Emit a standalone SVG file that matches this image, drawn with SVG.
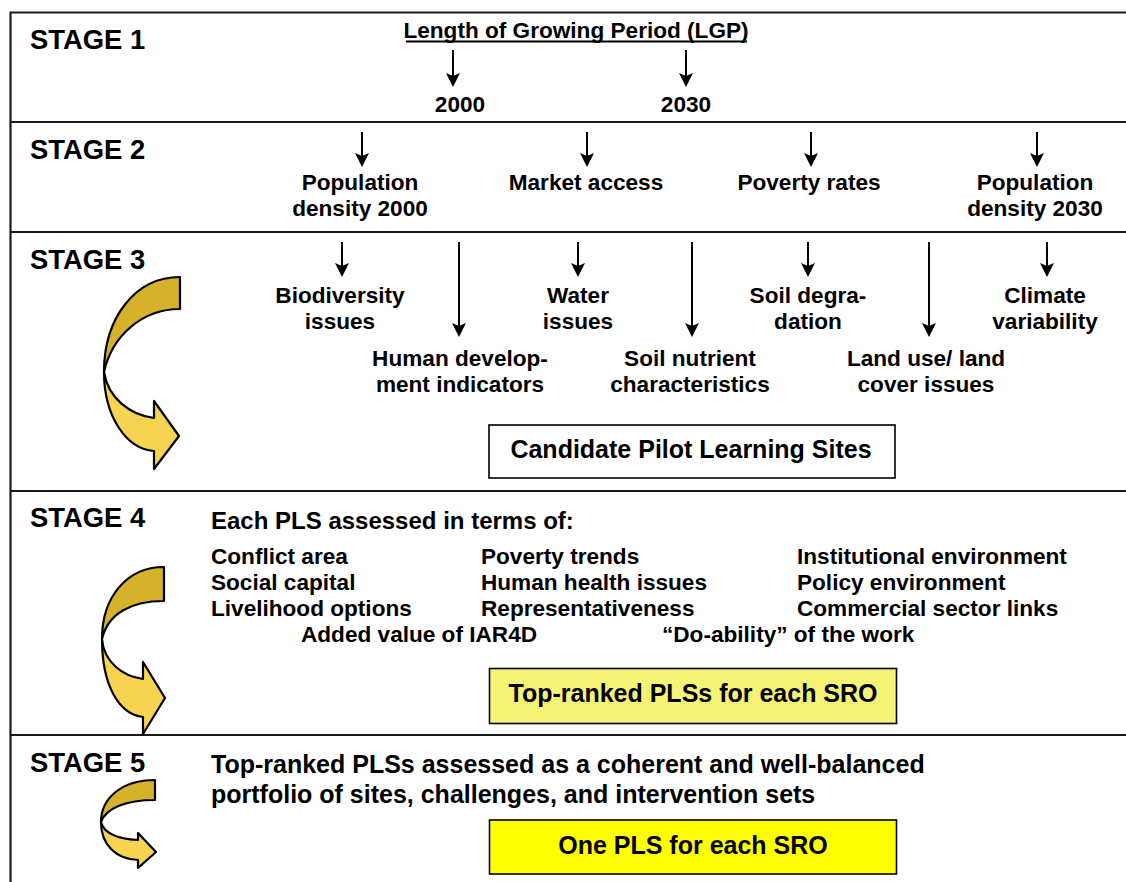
<svg xmlns="http://www.w3.org/2000/svg" width="1126" height="882" viewBox="0 0 1126 882">
  <style>
    .frame { stroke: #1a1a1a; stroke-width: 2.2; fill: none; }
    .stage { font-family: "Liberation Sans", Arial, sans-serif; font-weight: bold; font-size: 27.4px; fill: #000; }
    .t { font-family: "Liberation Sans", Arial, sans-serif; font-weight: bold; font-size: 22.6px; fill: #000; }
    .lead { font-size: 24px; }
    .big { font-size: 25px; }
    .c { text-anchor: middle; }
    .arr { stroke: #000; stroke-width: 2; fill: none; marker-end: url(#head); }
    .box { stroke: #000; stroke-width: 1.6; }
    .back { fill: #d6b22a; stroke: #000; stroke-width: 2.2; stroke-linejoin: round; }
    .front { fill: #f6d452; stroke: #000; stroke-width: 2.2; stroke-linejoin: round; }
  </style>
  <defs>
    <marker id="head" markerUnits="userSpaceOnUse" viewBox="0 -7 14 14" markerWidth="14" markerHeight="14" refX="10" refY="0" orient="auto">
      <path d="M0,-7 L14,0 L0,7 L3,0 Z" fill="#000"/>
    </marker>
    <pattern id="grain" width="4" height="4" patternUnits="userSpaceOnUse">
      <rect width="4" height="4" fill="#f7f35a"/>
      <rect x="0" y="0" width="1" height="1" fill="#fffbd0"/>
      <rect x="2" y="2" width="1" height="1" fill="#fffbd0"/>
    </pattern>
  </defs>
  <rect width="1126" height="882" fill="#fff"/>

  <!-- table frame: left edge and stage dividers -->
  <g id="frame">
    <line class="frame" x1="10.5" y1="12" x2="10.5" y2="882"/>
    <line class="frame" x1="10" y1="12.5" x2="1126" y2="12.5"/>
    <line class="frame" x1="10" y1="122" x2="1126" y2="122"/>
    <line class="frame" x1="10" y1="232" x2="1126" y2="232"/>
    <line class="frame" x1="10" y1="491" x2="1126" y2="491"/>
    <line class="frame" x1="10" y1="735" x2="1126" y2="735"/>
  </g>

  <!-- stage headings -->
  <g id="stage-labels">
    <text class="stage" x="30" y="49">STAGE 1</text>
    <text class="stage" x="30" y="159">STAGE 2</text>
    <text class="stage" x="30" y="269">STAGE 3</text>
    <text class="stage" x="30" y="527">STAGE 4</text>
    <text class="stage" x="30" y="772">STAGE 5</text>
  </g>

  <!-- stage 1 -->
  <g id="lgp">
    <text class="t c" x="576" y="38">Length of Growing Period (LGP)</text>
    <line x1="406" y1="41.5" x2="747" y2="41.5" stroke="#000" stroke-width="1.8"/>
  </g>
  <g id="lgp-2000"><text class="t c" x="460" y="112">2000</text></g>
  <g id="lgp-2030"><text class="t c" x="686" y="112">2030</text></g>

  <!-- stage 2 -->
  <g id="pop-2000">
    <text class="t c" x="360" y="190">Population</text>
    <text class="t c" x="360" y="216">density 2000</text>
  </g>
  <g id="market"><text class="t c" x="586" y="190">Market access</text></g>
  <g id="poverty"><text class="t c" x="809" y="190">Poverty rates</text></g>
  <g id="pop-2030">
    <text class="t c" x="1035" y="190">Population</text>
    <text class="t c" x="1035" y="216">density 2030</text>
  </g>

  <!-- stage 3 -->
  <g id="biodiversity">
    <text class="t c" x="340" y="303">Biodiversity</text>
    <text class="t c" x="340" y="329">issues</text>
  </g>
  <g id="human-dev">
    <text class="t c" x="460" y="366">Human develop-</text>
    <text class="t c" x="460" y="392">ment indicators</text>
  </g>
  <g id="water">
    <text class="t c" x="578" y="303">Water</text>
    <text class="t c" x="578" y="329">issues</text>
  </g>
  <g id="soil-nutrient">
    <text class="t c" x="690" y="366">Soil nutrient</text>
    <text class="t c" x="690" y="392">characteristics</text>
  </g>
  <g id="soil-degradation">
    <text class="t c" x="808" y="303">Soil degra-</text>
    <text class="t c" x="808" y="329">dation</text>
  </g>
  <g id="land-use">
    <text class="t c" x="926" y="366">Land use/ land</text>
    <text class="t c" x="926" y="392">cover issues</text>
  </g>
  <g id="climate">
    <text class="t c" x="1045" y="303">Climate</text>
    <text class="t c" x="1045" y="329">variability</text>
  </g>
  <g id="candidate-sites">
    <rect class="box" x="489" y="425" width="406" height="53" fill="#fff"/>
    <text class="t big c" x="691" y="458">Candidate Pilot Learning Sites</text>
  </g>

  <!-- stage 4 -->
  <g id="assessment">
    <text class="t lead" x="211" y="529">Each PLS assessed in terms of:</text>
    <text class="t" x="211" y="564">Conflict area</text>
    <text class="t" x="481" y="564">Poverty trends</text>
    <text class="t" x="797" y="564">Institutional environment</text>
    <text class="t" x="211" y="590">Social capital</text>
    <text class="t" x="481" y="590">Human health issues</text>
    <text class="t" x="797" y="590">Policy environment</text>
    <text class="t" x="211" y="616">Livelihood options</text>
    <text class="t" x="481" y="616">Representativeness</text>
    <text class="t" x="797" y="616">Commercial sector links</text>
    <text class="t" x="301" y="642">Added value of IAR4D</text>
    <text class="t" x="662" y="642">“Do-ability” of the work</text>
  </g>
  <g id="top-ranked">
    <rect class="box" x="489.5" y="668.5" width="407" height="55" fill="url(#grain)"/>
    <text class="t big c" x="693" y="702">Top-ranked PLSs for each SRO</text>
  </g>

  <!-- stage 5 -->
  <g id="portfolio">
    <text class="t big" x="211" y="773">Top-ranked PLSs assessed as a coherent and well-balanced</text>
    <text class="t big" x="211" y="803">portfolio of sites, challenges, and intervention sets</text>
  </g>
  <g id="one-pls">
    <rect class="box" x="489.5" y="820" width="407" height="54" fill="#ffff00"/>
    <text class="t big c" x="693" y="854">One PLS for each SRO</text>
  </g>

  <!-- curved arrows leading from one stage to the next -->
  <g id="curve-3">
    <path class="back" d="M180,277 C135,277 104,318 104,372 C112,336 142,309 180,309 Z"/>
    <path class="front" d="M104,372 C104,416 126,449 154,451 L154,469 L179,436 L154,401 L154,418 C130,415 108,398 104,372 Z"/>
  </g>
  <g id="curve-4">
    <path class="back" d="M164,567 C126,567 102,598 102,639 C108,613 132,601 164,601 Z"/>
    <path class="front" d="M102,639 C102,684 118,714 143,717 L143,734 L165,698 L143,662 L143,679 C122,676 104,662 102,639 Z"/>
  </g>
  <g id="curve-5">
    <path class="back" d="M155,780 C122,780 101,798 101,822 C106,808 126,800 155,800 Z"/>
    <path class="front" d="M101,822 C101,845 116,859 138,860 L138,868 L156,852 L138,833 L138,840 C120,839 104,834 101,822 Z"/>
  </g>

  <!-- connectors -->
  <g id="connectors">
    <line class="arr" x1="453" y1="50" x2="453" y2="83"/>
    <line class="arr" x1="686" y1="50" x2="686" y2="83"/>
    <line class="arr" x1="362" y1="132" x2="362" y2="163"/>
    <line class="arr" x1="587" y1="132" x2="587" y2="163"/>
    <line class="arr" x1="811" y1="132" x2="811" y2="163"/>
    <line class="arr" x1="1037" y1="132" x2="1037" y2="163"/>
    <line class="arr" x1="342" y1="242" x2="342" y2="273"/>
    <line class="arr" x1="459" y1="242" x2="459" y2="333"/>
    <line class="arr" x1="578" y1="242" x2="578" y2="273"/>
    <line class="arr" x1="692" y1="242" x2="692" y2="333"/>
    <line class="arr" x1="808" y1="242" x2="808" y2="273"/>
    <line class="arr" x1="929" y1="242" x2="929" y2="333"/>
    <line class="arr" x1="1047" y1="242" x2="1047" y2="273"/>
  </g>
</svg>
